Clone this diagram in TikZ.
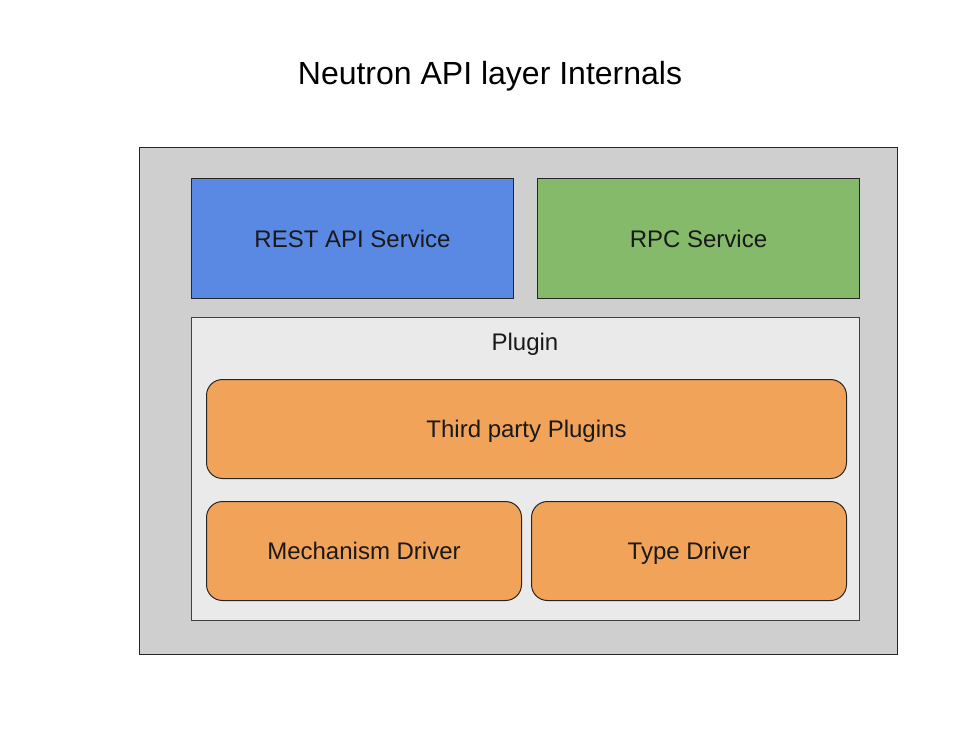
\documentclass[tikz,border=0pt]{standalone}
\usepackage{fontspec}
\setmainfont{Liberation Sans}
\definecolor{outergray}{HTML}{CFCFCF}
\definecolor{plugingray}{HTML}{EAEAEA}
\definecolor{restblue}{HTML}{5A89E4}
\definecolor{rpcgreen}{HTML}{84BA6A}
\definecolor{drvorange}{HTML}{F2A35A}
\begin{document}
\begin{tikzpicture}[x=1pt,y=-1pt,
  box/.style={draw=black!85, line width=1pt, inner sep=0pt, anchor=north west},
  lbl/.style={font=\fontsize{24}{28}\selectfont, text=black!90, text height=17.2pt, text depth=0pt},
  rbox/.style={box, rounded corners=16pt, fill=drvorange}]
\useasboundingbox (0,0) rectangle (975,732);
\node[font=\fontsize{32}{38}\selectfont, text height=22.9pt, text depth=0pt, inner sep=0pt] (title) at (490,73.5) {Neutron API layer Internals};
\node[box, fill=outergray, minimum width=758pt, minimum height=507pt] (outer) at (139,147) {};
\node[box, fill=restblue, minimum width=322pt, minimum height=120pt, lbl] (rest) at (191,178) {REST API Service};
\node[box, fill=rpcgreen, minimum width=322pt, minimum height=120pt, lbl] (rpc) at (537,178) {RPC Service};
\node[box, fill=plugingray, draw=black!75, minimum width=668pt, minimum height=303pt] (plugin) at (191,317) {};
\node[lbl, inner sep=0pt] (pluginlbl) at (525,342) {Plugin};
\node[rbox, minimum width=640pt, minimum height=99pt, lbl] (third) at (206,379) {Third party Plugins};
\node[rbox, minimum width=315pt, minimum height=99pt, lbl] (mech) at (206,501) {Mechanism Driver};
\node[rbox, minimum width=315pt, minimum height=99pt, lbl] (type) at (531,501) {Type Driver};
\end{tikzpicture}
\end{document}
